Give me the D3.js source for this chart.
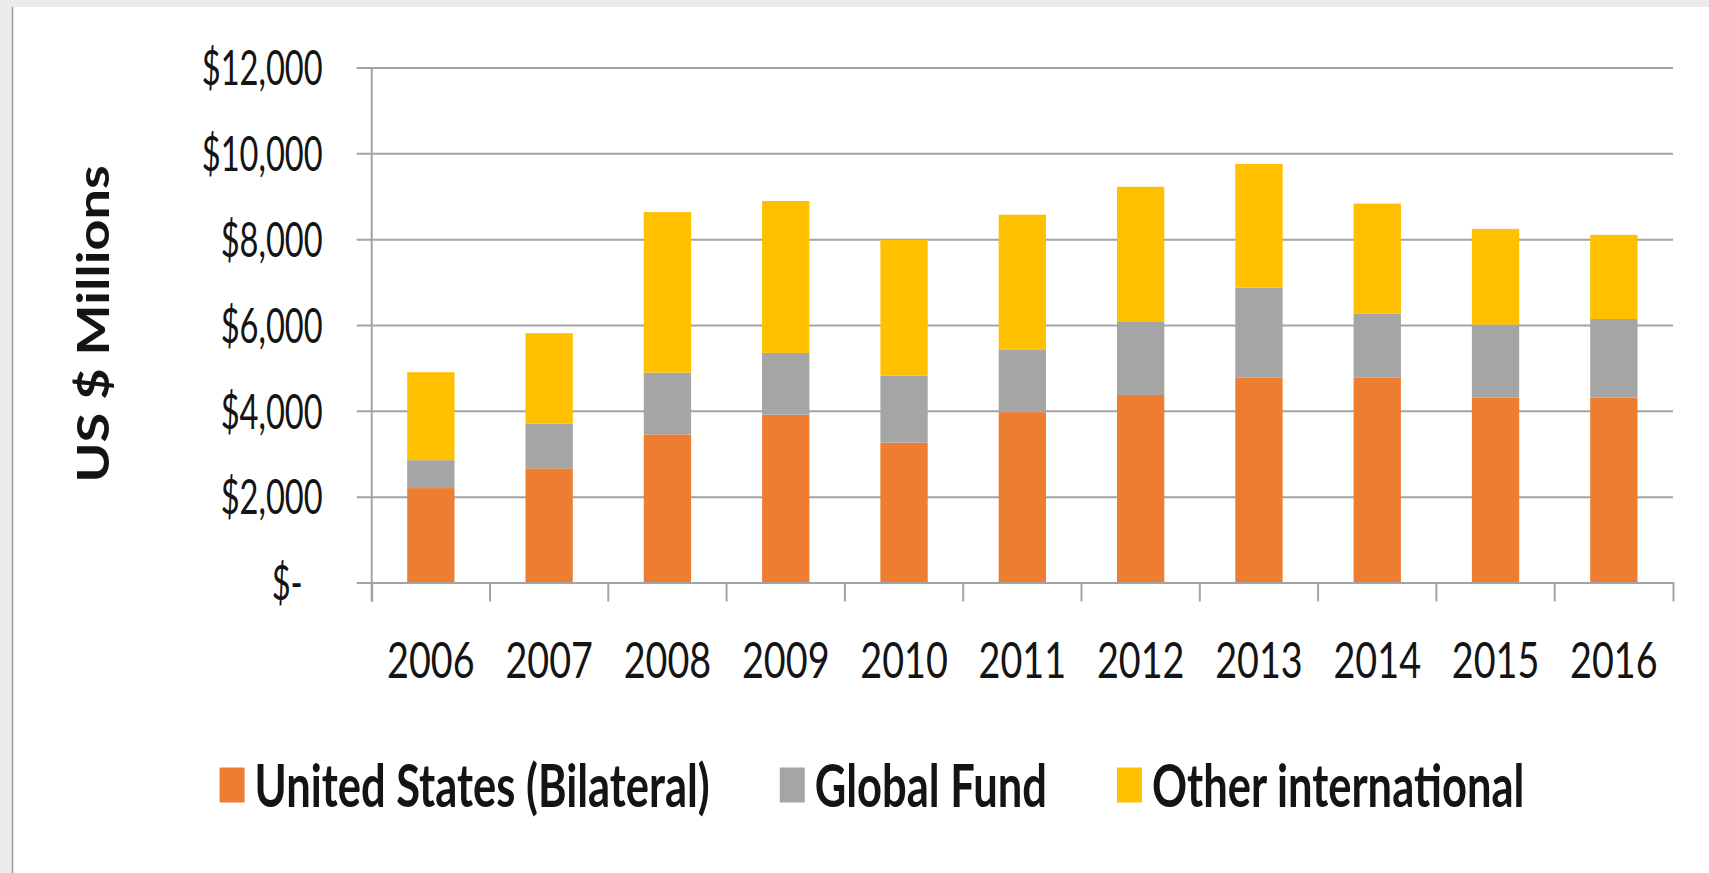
<!DOCTYPE html>
<html>
<head>
<meta charset="utf-8">
<script src="https://cdn.jsdelivr.net/npm/d3@7"></script>
<style>
  html, body { margin: 0; padding: 0; background: #ebebeb; }
  svg { display: block; }
  text { font-family: Lato, "Open Sans", "Liberation Sans", sans-serif; fill: #141414; }
</style>
</head>
<body>
<svg width="1709" height="873"></svg>
<script>
// values, US $ millions
const years = ['2006', '2007', '2008', '2009', '2010', '2011', '2012', '2013', '2014', '2015', '2016'];
const usBilateral = [2200, 2660, 3450, 3910, 3260, 3970, 4370, 4770, 4770, 4310, 4310];
const globalFund = [650, 1040, 1440, 1440, 1560, 1450, 1700, 2100, 1500, 1700, 1830];
const otherIntl = [2050, 2110, 3740, 3540, 3160, 3150, 3150, 2880, 2560, 2230, 1960];
const seriesNames = ['United States (Bilateral)', 'Global Fund', 'Other international'];
const seriesColors = ['#ed7d31', '#a5a5a5', '#ffc000'];
const yTicks = [0, 2000, 4000, 6000, 8000, 10000, 12000];

const svg = d3.select('svg');
const width = +svg.attr('width');
const height = +svg.attr('height');

// text in the source is squeezed horizontally
const squeeze = 0.74;
const tickSqueeze = 0.68;
const legendSqueeze = 0.725;

const plotLeft = 371.7, plotRight = 1673, plotTop = 67.5, plotBottom = 582.5;
const tickLen = 19;

// page background: grey strip top / left, white panel
svg.append('rect').attr('width', width).attr('height', height).attr('fill', '#ebebeb');
svg.append('rect').attr('x', 13).attr('y', 7).attr('width', width - 13).attr('height', height - 7).attr('fill', '#fff');
svg.append('line').attr('x1', 12.5).attr('x2', 12.5).attr('y1', 7).attr('y2', height)
  .attr('stroke', '#9c9c9c').attr('stroke-width', 1.5);

const rows = years.map((yr, i) => ({
  year: yr,
  [seriesNames[0]]: usBilateral[i],
  [seriesNames[1]]: globalFund[i],
  [seriesNames[2]]: otherIntl[i],
}));

const stack = d3.stack().keys(seriesNames);
const layers = stack(rows);

const x = d3.scaleBand()
  .domain(years)
  .range([plotLeft, plotRight])
  .paddingInner(0.6)
  .paddingOuter(0.3);

const y = d3.scaleLinear()
  .domain([0, 12000])
  .range([plotBottom, plotTop]);

const color = d3.scaleOrdinal().domain(seriesNames).range(seriesColors);

// gridlines + y labels (ticks run from the right edge out past the axis)
const gridLen = plotRight - plotLeft + 15;
const yAxis = svg.append('g')
  .attr('transform', `translate(${plotRight},0)`)
  .call(d3.axisLeft(y).tickValues(yTicks).tickSize(gridLen).tickPadding(0)
    .tickFormat(d => d === 0 ? '$-' : '$' + d3.format(',')(d)));
yAxis.select('.domain').remove();
yAxis.selectAll('.tick line').attr('stroke', '#a3a3a3').attr('stroke-width', 2);
yAxis.selectAll('.tick text')
  .attr('x', 0)
  .attr('dy', '0.36em')
  .attr('text-anchor', 'end')
  .style('font-size', '48px')
  .style('fill', '#141414')
  .attr('transform', d => `translate(${-gridLen - 34 - (d === 0 ? 20 : 0)},0) scale(${tickSqueeze},1)`);

// vertical axis line
svg.append('line')
  .attr('x1', plotLeft).attr('x2', plotLeft)
  .attr('y1', y(12000)).attr('y2', y(0) + tickLen)
  .attr('stroke', '#a3a3a3').attr('stroke-width', 2);

// bars
svg.append('g')
  .selectAll('g')
  .data(layers)
  .enter().append('g')
  .attr('fill', d => color(d.key))
  .selectAll('rect')
  .data(d => d)
  .enter().append('rect')
  .attr('x', d => x(d.data.year))
  .attr('width', x.bandwidth())
  .attr('y', d => y(d[1]))
  .attr('height', d => y(d[0]) - y(d[1]));

// x axis: baseline with outer ticks, boundary ticks between categories
const xAxis = svg.append('g')
  .attr('transform', `translate(0,${plotBottom})`)
  .call(d3.axisBottom(x).tickSizeInner(0).tickSizeOuter(tickLen).tickPadding(0));
xAxis.select('.domain').attr('stroke', '#a3a3a3').attr('stroke-width', 2).attr('fill', 'none');
xAxis.selectAll('.tick line').remove();
xAxis.selectAll('.tick text')
  .attr('y', 0)
  .attr('dy', '0.36em')
  .style('font-size', '51px')
  .style('fill', '#141414')
  .attr('transform', `translate(0,77) scale(${squeeze},1)`);

xAxis.append('g')
  .selectAll('line')
  .data(years.slice(1))
  .enter().append('line')
  .attr('x1', d => x(d) - x.step() * x.paddingInner() / 2)
  .attr('x2', d => x(d) - x.step() * x.paddingInner() / 2)
  .attr('y1', 0).attr('y2', tickLen)
  .attr('stroke', '#a3a3a3').attr('stroke-width', 2);

// y title
svg.append('text')
  .attr('transform', `translate(109,324) scale(0.8,1) rotate(-90)`)
  .attr('text-anchor', 'middle')
  .style('font-size', '54px')
  .style('font-weight', 700)
  .text('US $ Millions');

// legend
const legend = svg.append('g').attr('transform', 'translate(219.6,785)');
let lx = 0;
seriesNames.forEach((name, i) => {
  const item = legend.append('g').attr('transform', `translate(${lx},0)`);
  item.append('rect')
    .attr('x', 0).attr('y', -17.5)
    .attr('width', 25).attr('height', 35)
    .attr('fill', color(name));
  const t = item.append('text')
    .attr('transform', `translate(35,0) scale(${legendSqueeze},1)`)
    .attr('dy', '0.36em')
    .style('font-size', '60px')
    .style('font-weight', 700)
    .text(name);
  const w = t.node().getComputedTextLength() * legendSqueeze;
  lx += 35 + w + 70;
});
</script>
</body>
</html>
